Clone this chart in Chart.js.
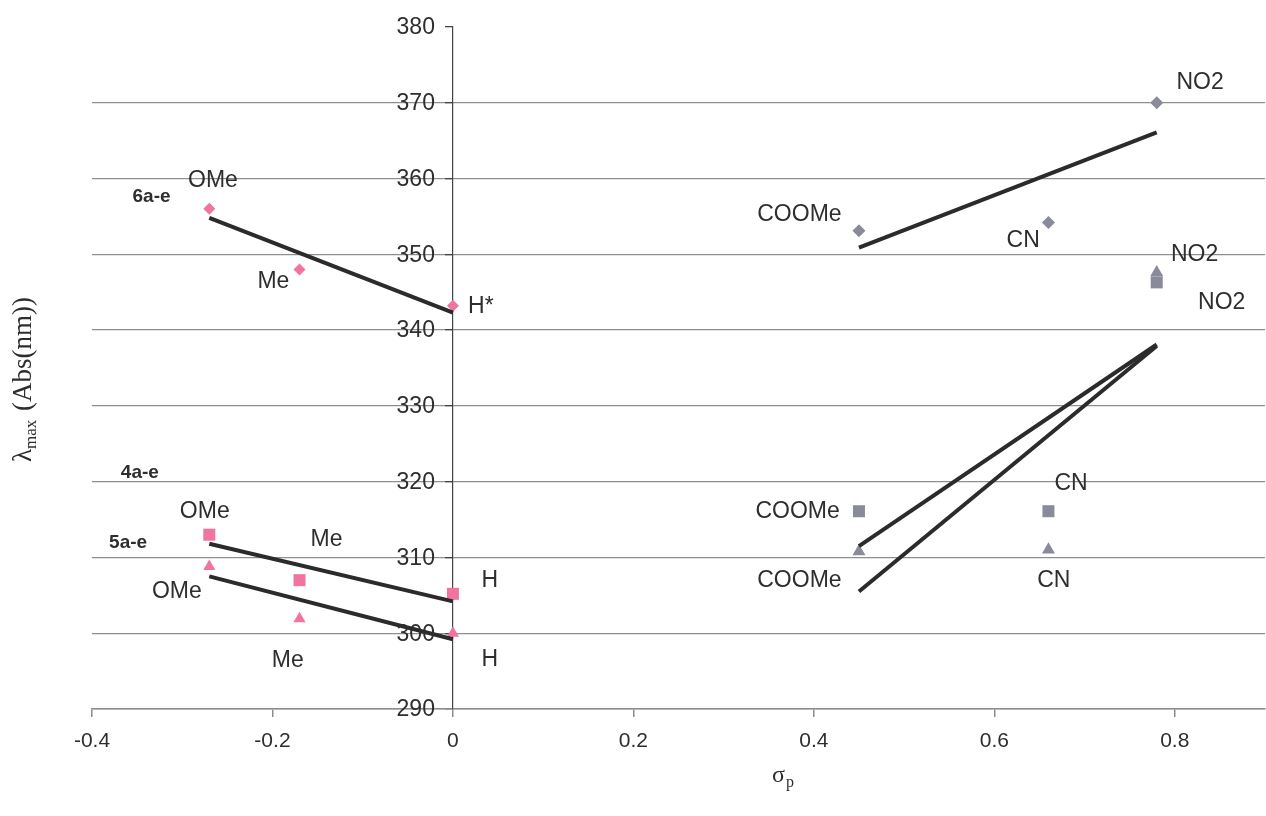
<!DOCTYPE html>
<html>
<head>
<meta charset="utf-8">
<script src="https://cdn.jsdelivr.net/npm/chart.js@4.4.0/dist/chart.umd.min.js"></script>
<style>
  html, body { margin: 0; padding: 0; background: #fff; }
  #chart { display: block; }
</style>
</head>
<body>
<canvas id="chart" width="1266" height="816"></canvas>
<script>
// σp values of the substituents
const sigmaNeg = [-0.27, -0.17, 0];      // OMe, Me, H
const sigmaPos = [0.45, 0.66, 0.78];     // COOMe, CN, NO2

// λmax (nm)
const lambda6Neg = [356, 348, 343.2];
const lambda4Neg = [313, 307, 305.2];
const lambda5Neg = [308.8, 301.9, 300];
const lambda6Pos = [353.1, 354.2, 370.0];
const lambda4Pos = [316.1, 316.1, 346.3];
const lambda5Pos = [310.8, 311.0, 347.6];

// linear trend lines (end values)
const trendXNeg = [-0.27, 0];
const trendXPos = [0.45, 0.78];
const trend6Neg = [354.8, 342.3];
const trend4Neg = [311.8, 304.2];
const trend5Neg = [307.5, 299.2];
const trend6Pos = [350.9, 366.1];
const trend4Pos = [311.5, 338.1];
const trend5Pos = [305.5, 337.9];

// axis ticks
const xTicks = [-0.4, -0.2, 0, 0.2, 0.4, 0.6, 0.8];
const yTicks = [290, 300, 310, 320, 330, 340, 350, 360, 370, 380];

// text labels placed in data space
const labels = [
  { t: 'OMe', x: -0.266, y: 359.7 },
  { t: '6a-e', x: -0.334, y: 357.6, bold: true },
  { t: 'Me', x: -0.199, y: 346.4 },
  { t: 'H*', x: 0.031, y: 343.1 },
  { t: '4a-e', x: -0.347, y: 321.2, bold: true },
  { t: 'OMe', x: -0.275, y: 316.1 },
  { t: '5a-e', x: -0.36, y: 312.0, bold: true },
  { t: 'Me', x: -0.140, y: 312.3 },
  { t: 'H', x: 0.041, y: 307.0 },
  { t: 'OMe', x: -0.306, y: 305.5 },
  { t: 'Me', x: -0.183, y: 296.4 },
  { t: 'H', x: 0.041, y: 296.5 },
  { t: 'COOMe', x: 0.384, y: 355.2 },
  { t: 'CN', x: 0.632, y: 351.8 },
  { t: 'NO2', x: 0.828, y: 372.6 },
  { t: 'NO2', x: 0.822, y: 349.9 },
  { t: 'NO2', x: 0.852, y: 343.6 },
  { t: 'COOMe', x: 0.382, y: 316.1 },
  { t: 'CN', x: 0.685, y: 319.8 },
  { t: 'COOMe', x: 0.384, y: 307.0 },
  { t: 'CN', x: 0.666, y: 306.9 }
];

const PINK = '#f0749f';
const GRAY = '#8a8b9a';
const LINE = '#2b2b2b';
const TEXT = '#2e2e2e';
const SANS = '"Liberation Sans", Arial, sans-serif';
const SERIF = '"Liberation Serif", "Times New Roman", serif';

const pts = (xs, ys) => xs.map((x, i) => ({ x: x, y: ys[i] }));

function markers(ys, xs, color, style, r) {
  return {
    type: 'scatter', data: pts(xs, ys), order: 2,
    pointStyle: style, pointRadius: r, pointBackgroundColor: color,
    pointBorderColor: color, pointBorderWidth: 0, showLine: false
  };
}

function trend(xs, ys) {
  return {
    type: 'line', data: pts(xs, ys), order: 1,
    borderColor: LINE, borderWidth: 4, pointRadius: 0, fill: false, tension: 0
  };
}

// y tick labels sit left of the axis that crosses at x = 0
const yLabelPlugin = {
  id: 'yLabels',
  afterDraw(chart) {
    const { ctx, scales: { x, y } } = chart;
    const left = x.getPixelForValue(0) - 18;
    ctx.save();
    ctx.fillStyle = TEXT;
    ctx.font = '23px ' + SANS;
    ctx.textAlign = 'right';
    ctx.textBaseline = 'middle';
    yTicks.forEach(v => ctx.fillText(String(v), left, y.getPixelForValue(v) + 1));
    ctx.restore();
  }
};

// point labels and axis titles
const textPlugin = {
  id: 'texts',
  afterDatasetsDraw(chart) {
    const { ctx, scales: { x, y } } = chart;
    ctx.save();
    ctx.fillStyle = TEXT;
    ctx.textAlign = 'center';
    ctx.textBaseline = 'middle';
    labels.forEach(l => {
      ctx.font = l.bold ? 'bold 19px ' + SANS : '23px ' + SANS;
      ctx.fillText(l.t, x.getPixelForValue(l.x), y.getPixelForValue(l.y));
    });

    // x title: σp
    ctx.textAlign = 'left';
    ctx.textBaseline = 'alphabetic';
    ctx.font = '24px ' + SERIF;
    ctx.fillText('σ', 772, 782);
    ctx.font = '16px ' + SERIF;
    ctx.fillText('p', 786, 787);

    // y title: λmax (Abs(nm))
    ctx.translate(31, 462);
    ctx.rotate(-Math.PI / 2);
    ctx.font = '27px ' + SERIF;
    ctx.fillText('λ', 0, 0);
    let w = ctx.measureText('λ').width;
    ctx.font = '17px ' + SERIF;
    ctx.fillText('max', w, 5);
    w += ctx.measureText('max').width + 2;
    ctx.font = '27px ' + SERIF;
    ctx.fillText(' (Abs(nm))', w, 0);
    ctx.restore();
  }
};

new Chart(document.getElementById('chart'), {
  type: 'scatter',
  data: {
    datasets: [
      markers(lambda6Neg, sigmaNeg, PINK, 'rectRot', 6),
      markers(lambda4Neg, sigmaNeg, PINK, 'rect', 8.5),
      markers(lambda5Neg, sigmaNeg, PINK, 'triangle', 7),
      markers(lambda6Pos, sigmaPos, GRAY, 'rectRot', 6.5),
      markers(lambda4Pos, sigmaPos, GRAY, 'rect', 8.5),
      markers(lambda5Pos, sigmaPos, GRAY, 'triangle', 7.5),
      trend(trendXNeg, trend6Neg),
      trend(trendXNeg, trend4Neg),
      trend(trendXNeg, trend5Neg),
      trend(trendXPos, trend6Pos),
      trend(trendXPos, trend4Pos),
      trend(trendXPos, trend5Pos)
    ]
  },
  options: {
    responsive: false,
    animation: false,
    layout: { autoPadding: false, padding: { left: 92, right: 1, top: 27, bottom: 0 } },
    plugins: { legend: { display: false }, tooltip: { enabled: false } },
    scales: {
      x: {
        type: 'linear', position: 'bottom', min: -0.4, max: 0.9,
        afterBuildTicks: s => { s.ticks = xTicks.map(v => ({ value: v })); },
        afterFit: s => { s.height = 107; },
        ticks: {
          color: TEXT, padding: 12,
          font: { size: 21, family: SANS },
          callback: v => String(Number(v.toFixed(1)))
        },
        grid: { drawOnChartArea: false, tickLength: 8, tickColor: '#8c8c8c', lineWidth: 1.5 },
        border: { color: '#8c8c8c', width: 1.5 }
      },
      y: {
        type: 'linear', position: { x: 0 }, min: 290, max: 380,
        afterBuildTicks: s => { s.ticks = yTicks.map(v => ({ value: v })); },
        ticks: { display: false },
        grid: {
          color: c => (c.tick && c.tick.value === 380) ? 'rgba(0,0,0,0)' : '#8f8f8f',
          lineWidth: 1.3, tickLength: 7, tickColor: '#444'
        },
        border: { color: '#444', width: 1.2 }
      }
    }
  },
  plugins: [textPlugin, yLabelPlugin]
});
</script>
</body>
</html>
